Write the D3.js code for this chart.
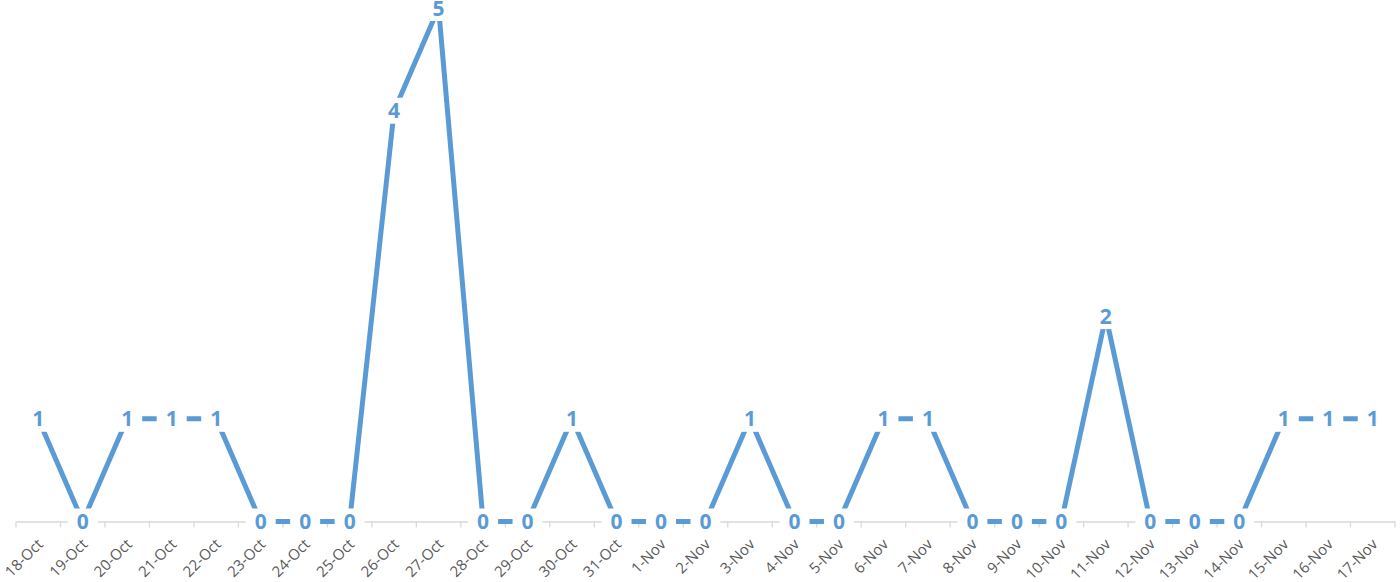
<!DOCTYPE html>
<html><head><meta charset="utf-8">
<script src="https://cdn.jsdelivr.net/npm/d3@7"></script>
<style>body{margin:0;background:#fff}svg{display:block}</style>
</head><body>
<script>
const categories = ["18-Oct","19-Oct","20-Oct","21-Oct","22-Oct","23-Oct","24-Oct","25-Oct","26-Oct","27-Oct","28-Oct","29-Oct","30-Oct","31-Oct","1-Nov","2-Nov","3-Nov","4-Nov","5-Nov","6-Nov","7-Nov","8-Nov","9-Nov","10-Nov","11-Nov","12-Nov","13-Nov","14-Nov","15-Nov","16-Nov","17-Nov"];
const values = [1,0,1,1,1,0,0,0,4,5,0,0,1,0,0,0,1,0,0,1,1,0,0,0,2,0,0,0,1,1,1];

const W = 1400, H = 582;
const color = "#5B9BD5";
const svg = d3.select("body").append("svg").attr("width", W).attr("height", H);

const x = d3.scaleBand().domain(categories).range([16, 1395]);
const y = d3.scaleLinear().domain([0, 5]).range([521.5, 8]);

// axis
const axisG = svg.append("g").attr("transform", `translate(0,${y(0)})`);
axisG.call(d3.axisBottom(x).tickSize(0).tickFormat(""));
axisG.select(".domain").attr("stroke", "#D9D9D9").attr("stroke-width", 1.3);
const bounds = categories.map(c => x(c)).concat([x.range()[1]]);
axisG.selectAll(".tickmark").data(bounds).enter().append("line")
  .attr("x1", d => d).attr("x2", d => d).attr("y1", 0).attr("y2", 6)
  .attr("stroke", "#D9D9D9").attr("stroke-width", 1.3);

svg.append("g").selectAll("text").data(categories).enter().append("text")
  .attr("transform", d => `translate(${x(d) + x.bandwidth()/2 + 1.5},${y(0) + 19.5}) rotate(-45)`)
  .attr("text-anchor", "end")
  .attr("dominant-baseline", "central")
  .attr("font-family", "'Open Sans', sans-serif")
  .attr("font-size", 15)
  .attr("fill", "#595959")
  .text(d => d);

// line
const line = d3.line().x((d, i) => x(categories[i]) + x.bandwidth()/2).y(d => y(d));
svg.append("path").datum(values).attr("d", line)
  .attr("fill", "none").attr("stroke", color).attr("stroke-width", 5)
  .attr("stroke-linejoin", "round");

// labels with white boxes
const lab = svg.append("g").selectAll("g").data(values).enter().append("g")
  .attr("transform", (d, i) => `translate(${x(categories[i]) + x.bandwidth()/2},${y(d)})`);
lab.append("rect").attr("x", -15).attr("y", -13).attr("width", 30).attr("height", 26).attr("fill", "#fff");
lab.append("text").attr("text-anchor", "middle").attr("dy", "0.36em")
  .attr("font-family", "'Open Sans', sans-serif").attr("font-weight", "bold")
  .attr("font-size", 21).attr("fill", color).text(d => d);
</script>
</body></html>
